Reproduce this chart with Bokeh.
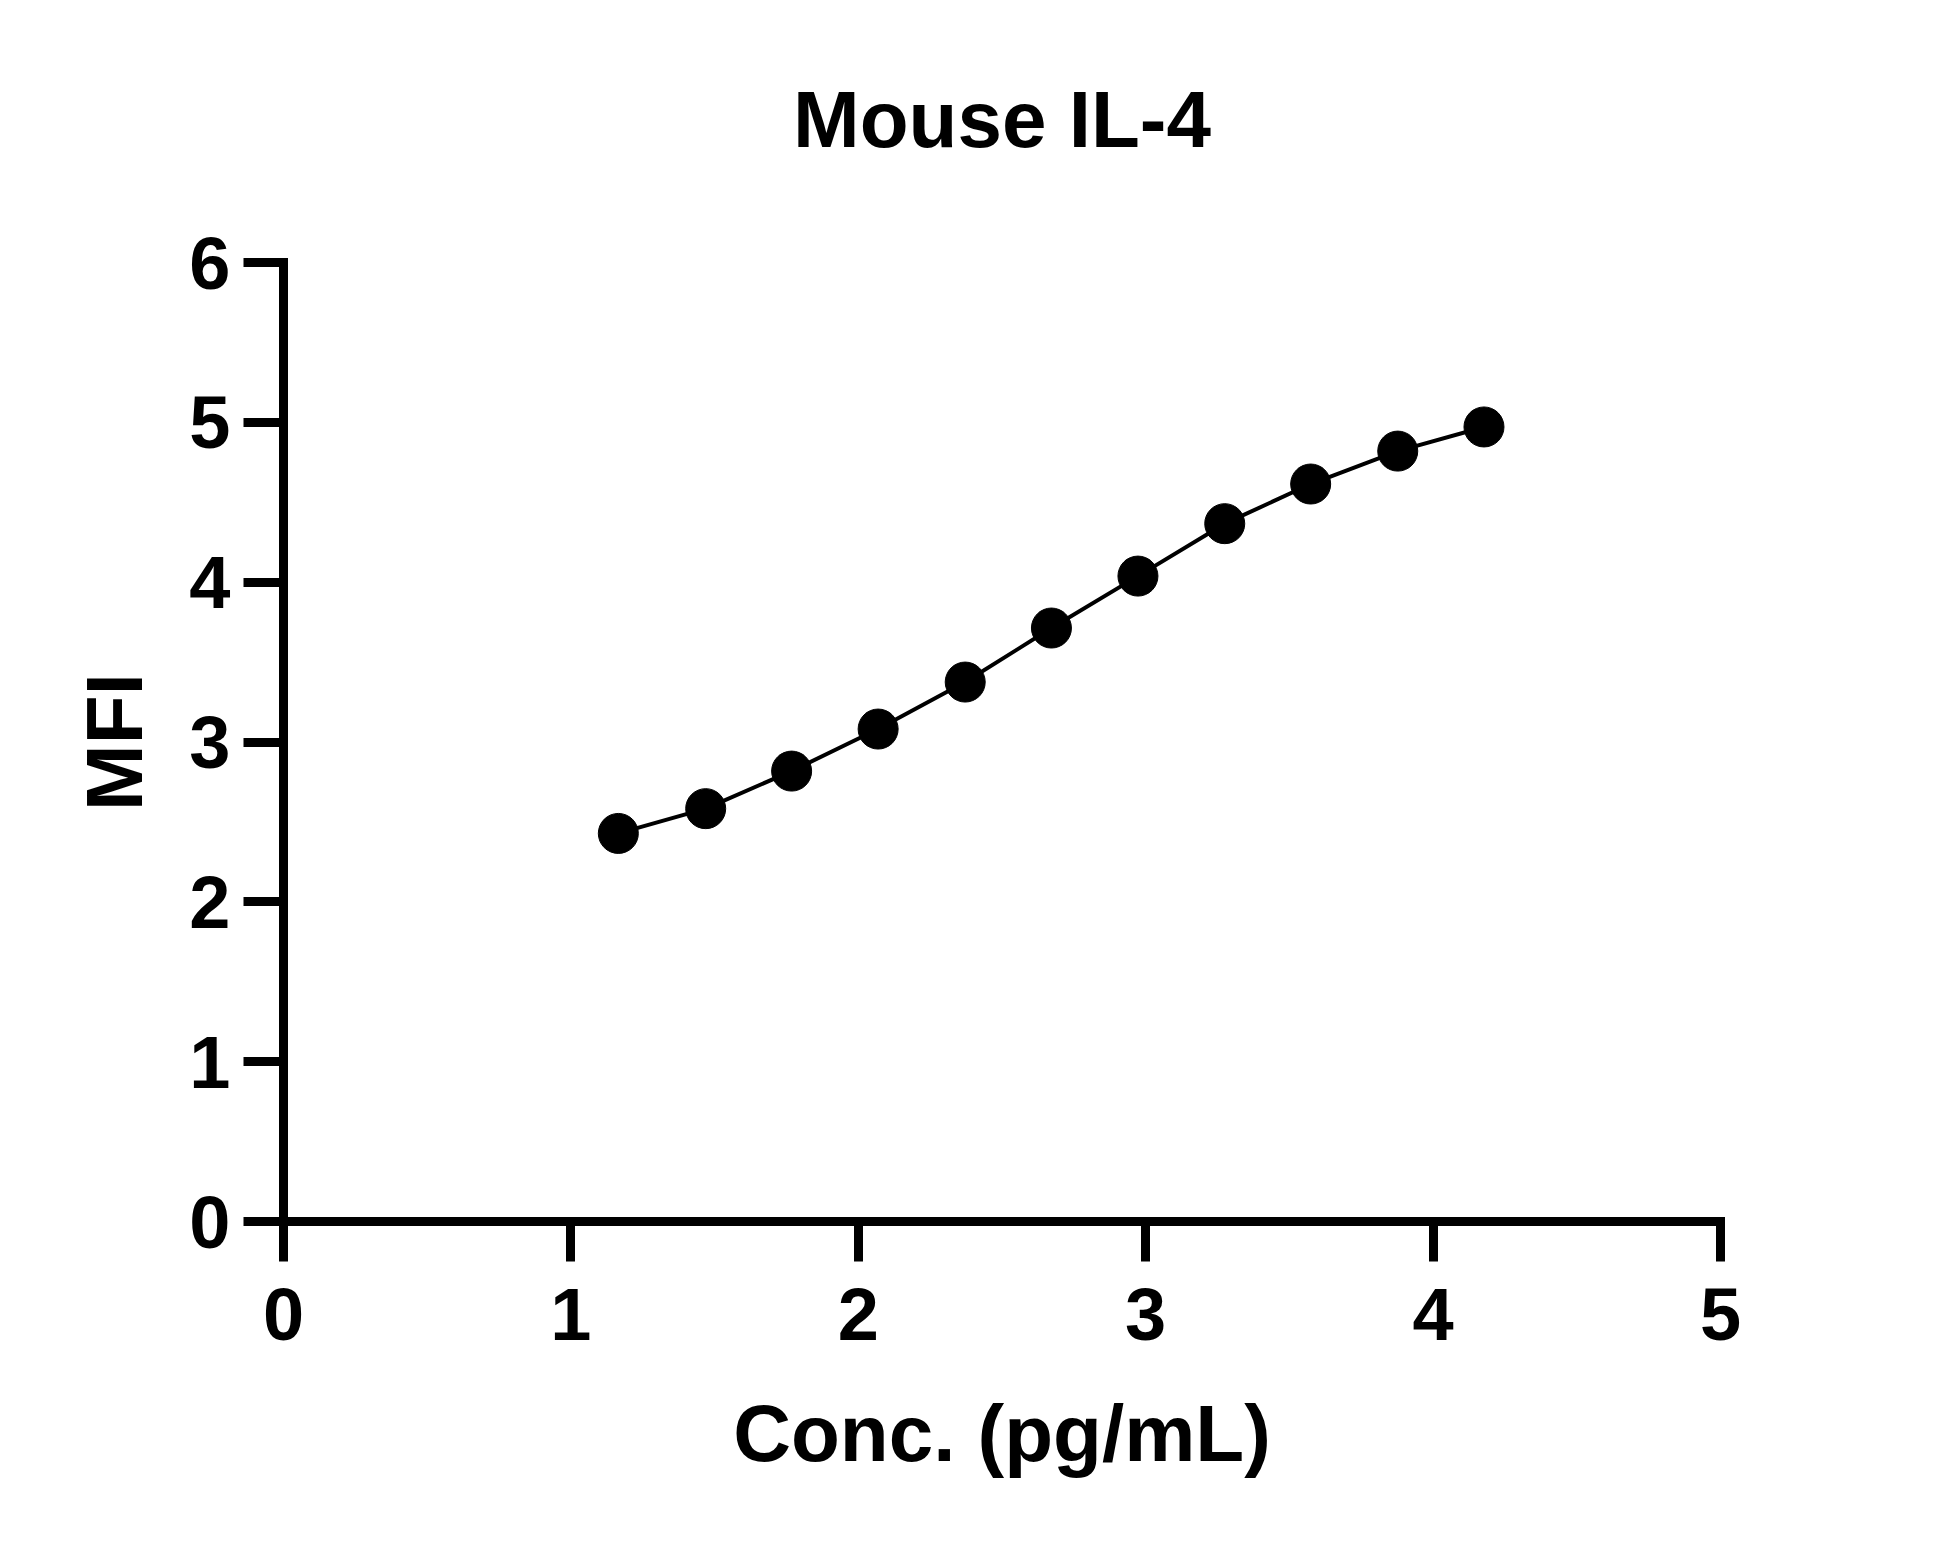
from bokeh.plotting import figure
from bokeh.models import FixedTicker, Range1d, Title
from bokeh.embed import file_html
from bokeh.resources import INLINE

# Data
conc_log = [1.165, 1.469, 1.768, 2.069, 2.372, 2.672, 2.973, 3.275, 3.574, 3.877, 4.177]
mfi = [2.428, 2.583, 2.818, 3.081, 3.375, 3.713, 4.038, 4.366, 4.614, 4.820, 4.971]
x_ticks = [0, 1, 2, 3, 4, 5]
y_ticks = [0, 1, 2, 3, 4, 5, 6]
title_text = "Mouse IL-4"

FONT = "Liberation Sans"

p = figure(width=1920, height=1520, output_backend="svg", toolbar_location=None,
           x_range=Range1d(0, 5), y_range=Range1d(0, 6),
           min_border_left=283, min_border_right=200, min_border_top=262, min_border_bottom=299)
p.title = None
# trailing empty line adds space below the title so it sits higher above the frame
p.add_layout(Title(text=title_text + "\n", text_font=FONT, text_font_size="80px",
                   text_font_style="bold", align="center", vertical_align="top",
                   text_color="black", standoff=16), "above")

p.outline_line_color = None
p.grid.visible = False
p.background_fill_color = "white"
p.border_fill_color = "white"

p.line(conc_log, mfi, line_color="black", line_width=4)
p.scatter(conc_log, mfi, size=40, fill_color="black", line_color="black")

for ax, ticks in ((p.xaxis[0], x_ticks), (p.yaxis[0], y_ticks)):
    ax.ticker = FixedTicker(ticks=ticks)
    ax.minor_tick_line_color = None
    ax.axis_line_width = 9
    ax.axis_line_color = "black"
    ax.axis_line_cap = "square"
    ax.major_tick_line_width = 9
    ax.major_tick_line_color = "black"
    ax.major_tick_in = 0
    ax.major_tick_out = 40
    ax.major_label_text_font = FONT
    ax.major_label_text_font_style = "bold"
    ax.major_label_text_font_size = "74px"
    ax.major_label_text_color = "black"
    ax.axis_label_text_font = FONT
    ax.axis_label_text_font_style = "bold"
    ax.axis_label_text_font_size = "80px"
    ax.axis_label_text_color = "black"

p.xaxis.axis_label = "Conc. (pg/mL)"
p.yaxis.axis_label = "MFI"
p.xaxis.major_label_standoff = 26
p.yaxis.major_label_standoff = 13
p.xaxis.axis_label_standoff = 46
p.yaxis.axis_label_standoff = 27

open("out.html", "w").write(file_html(p, INLINE))
